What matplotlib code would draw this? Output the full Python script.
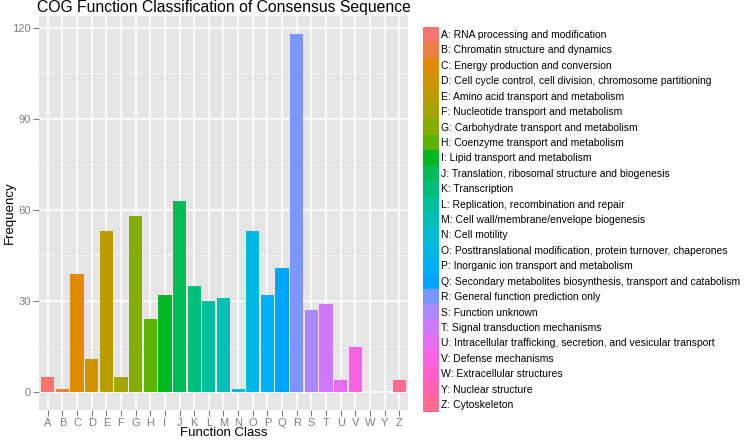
import numpy as np
import matplotlib.pyplot as plt
from matplotlib.patches import Patch

plt.rcParams['font.family'] = ['Liberation Sans', 'DejaVu Sans']

# data
classes = list("ABCDEFGHIJKLMNOPQRSTUVWYZ")
freq = [5, 1, 39, 11, 53, 5, 58, 24, 32, 63, 35, 30, 31, 1, 53, 32, 41, 118, 27, 29, 4, 15, 0, 0, 4]
descriptions = [
    "RNA processing and modification",
    "Chromatin structure and dynamics",
    "Energy production and conversion",
    "Cell cycle control, cell division, chromosome partitioning",
    "Amino acid transport and metabolism",
    "Nucleotide transport and metabolism",
    "Carbohydrate transport and metabolism",
    "Coenzyme transport and metabolism",
    "Lipid transport and metabolism",
    "Translation, ribosomal structure and biogenesis",
    "Transcription",
    "Replication, recombination and repair",
    "Cell wall/membrane/envelope biogenesis",
    "Cell motility",
    "Posttranslational modification, protein turnover, chaperones",
    "Inorganic ion transport and metabolism",
    "Secondary metabolites biosynthesis, transport and catabolism",
    "General function prediction only",
    "Function unknown",
    "Signal transduction mechanisms",
    "Intracellular trafficking, secretion, and vesicular transport",
    "Defense mechanisms",
    "Extracellular structures",
    "Nuclear structure",
    "Cytoskeleton",
]
yticks = [0, 30, 60, 90, 120]


def hcl(h, c=100, l=65):
    # polar LUV -> sRGB, same as R's hcl()
    wu, wv = 0.1978398, 0.4683363
    h = np.deg2rad(h)
    U = c * np.cos(h)
    V = c * np.sin(h)
    Y = 100.0 * (((l + 16) / 116) ** 3 if l > 7.999592 else l / 903.3)
    u = U / (13 * l) + wu
    v = V / (13 * l) + wv
    X = 9.0 * Y * u / (4 * v)
    Z = -X / 3 - 5 * Y + 3 * Y / v

    def g(t):
        t = t / 100.0
        return 1.055 * t ** (1 / 2.4) - 0.055 if t > 0.00304 else 12.92 * t
    r = g(3.240479 * X - 1.537150 * Y - 0.498535 * Z)
    gg = g(-0.969256 * X + 1.875992 * Y + 0.041556 * Z)
    b = g(0.055648 * X - 0.204043 * Y + 1.057311 * Z)
    return tuple(min(max(x, 0), 1) for x in (r, gg, b))


n = len(classes)
hues = np.linspace(15, 375, n + 1)[:n]
colors = [hcl(h) for h in hues]

fig = plt.figure(figsize=(7.44, 4.4), dpi=100)
ax = fig.add_axes([39 / 744, 1 - 410 / 440, 369 / 744, 394 / 440])
ax.set_facecolor('#e5e5e5')

x = np.arange(n)
ax.bar(x, freq, width=0.9, color=colors, zorder=3)

ymax = max(freq)
ax.set_ylim(-0.05 * ymax, ymax * 1.05)
ax.set_xlim(-0.6, n - 0.4)

for yv in np.arange(15, 130, 30):
    ax.axhline(yv, color='#f2f2f2', lw=0.6, zorder=1)
for yv in yticks:
    ax.axhline(yv, color='white', lw=1.1, zorder=1)
for xv in x:
    ax.axvline(xv, color='white', lw=1.1, zorder=1)

ax.set_yticks(yticks)
ax.set_xticks(x)
ax.set_xticklabels(classes)
ax.tick_params(colors='#7f7f7f', labelsize=8, length=4, width=0.8, pad=2)
for s in ax.spines.values():
    s.set_visible(False)

ax.set_xlabel('Function Class', fontsize=9.5)
ax.set_ylabel('Frequency', fontsize=9.5)
ax.xaxis.set_label_coords(0.5, -0.044)
ax.yaxis.set_label_coords(-0.062, 0.5)
ax.set_title('COG Function Classification of Consensus Sequence', fontsize=11.3, pad=3)

handles = [Patch(facecolor=c, edgecolor='none') for c in colors]
labels = [f"{c}: {d}" for c, d in zip(classes, descriptions)]
fig.legend(handles, labels, loc='upper left', bbox_to_anchor=(423 / 744, 1 - 27 / 440),
           frameon=False, fontsize=7.5, labelspacing=0, handlelength=1.53,
           handleheight=1.9, handletextpad=0.2, borderpad=0, borderaxespad=0)

fig.savefig('out.png', dpi=100)
